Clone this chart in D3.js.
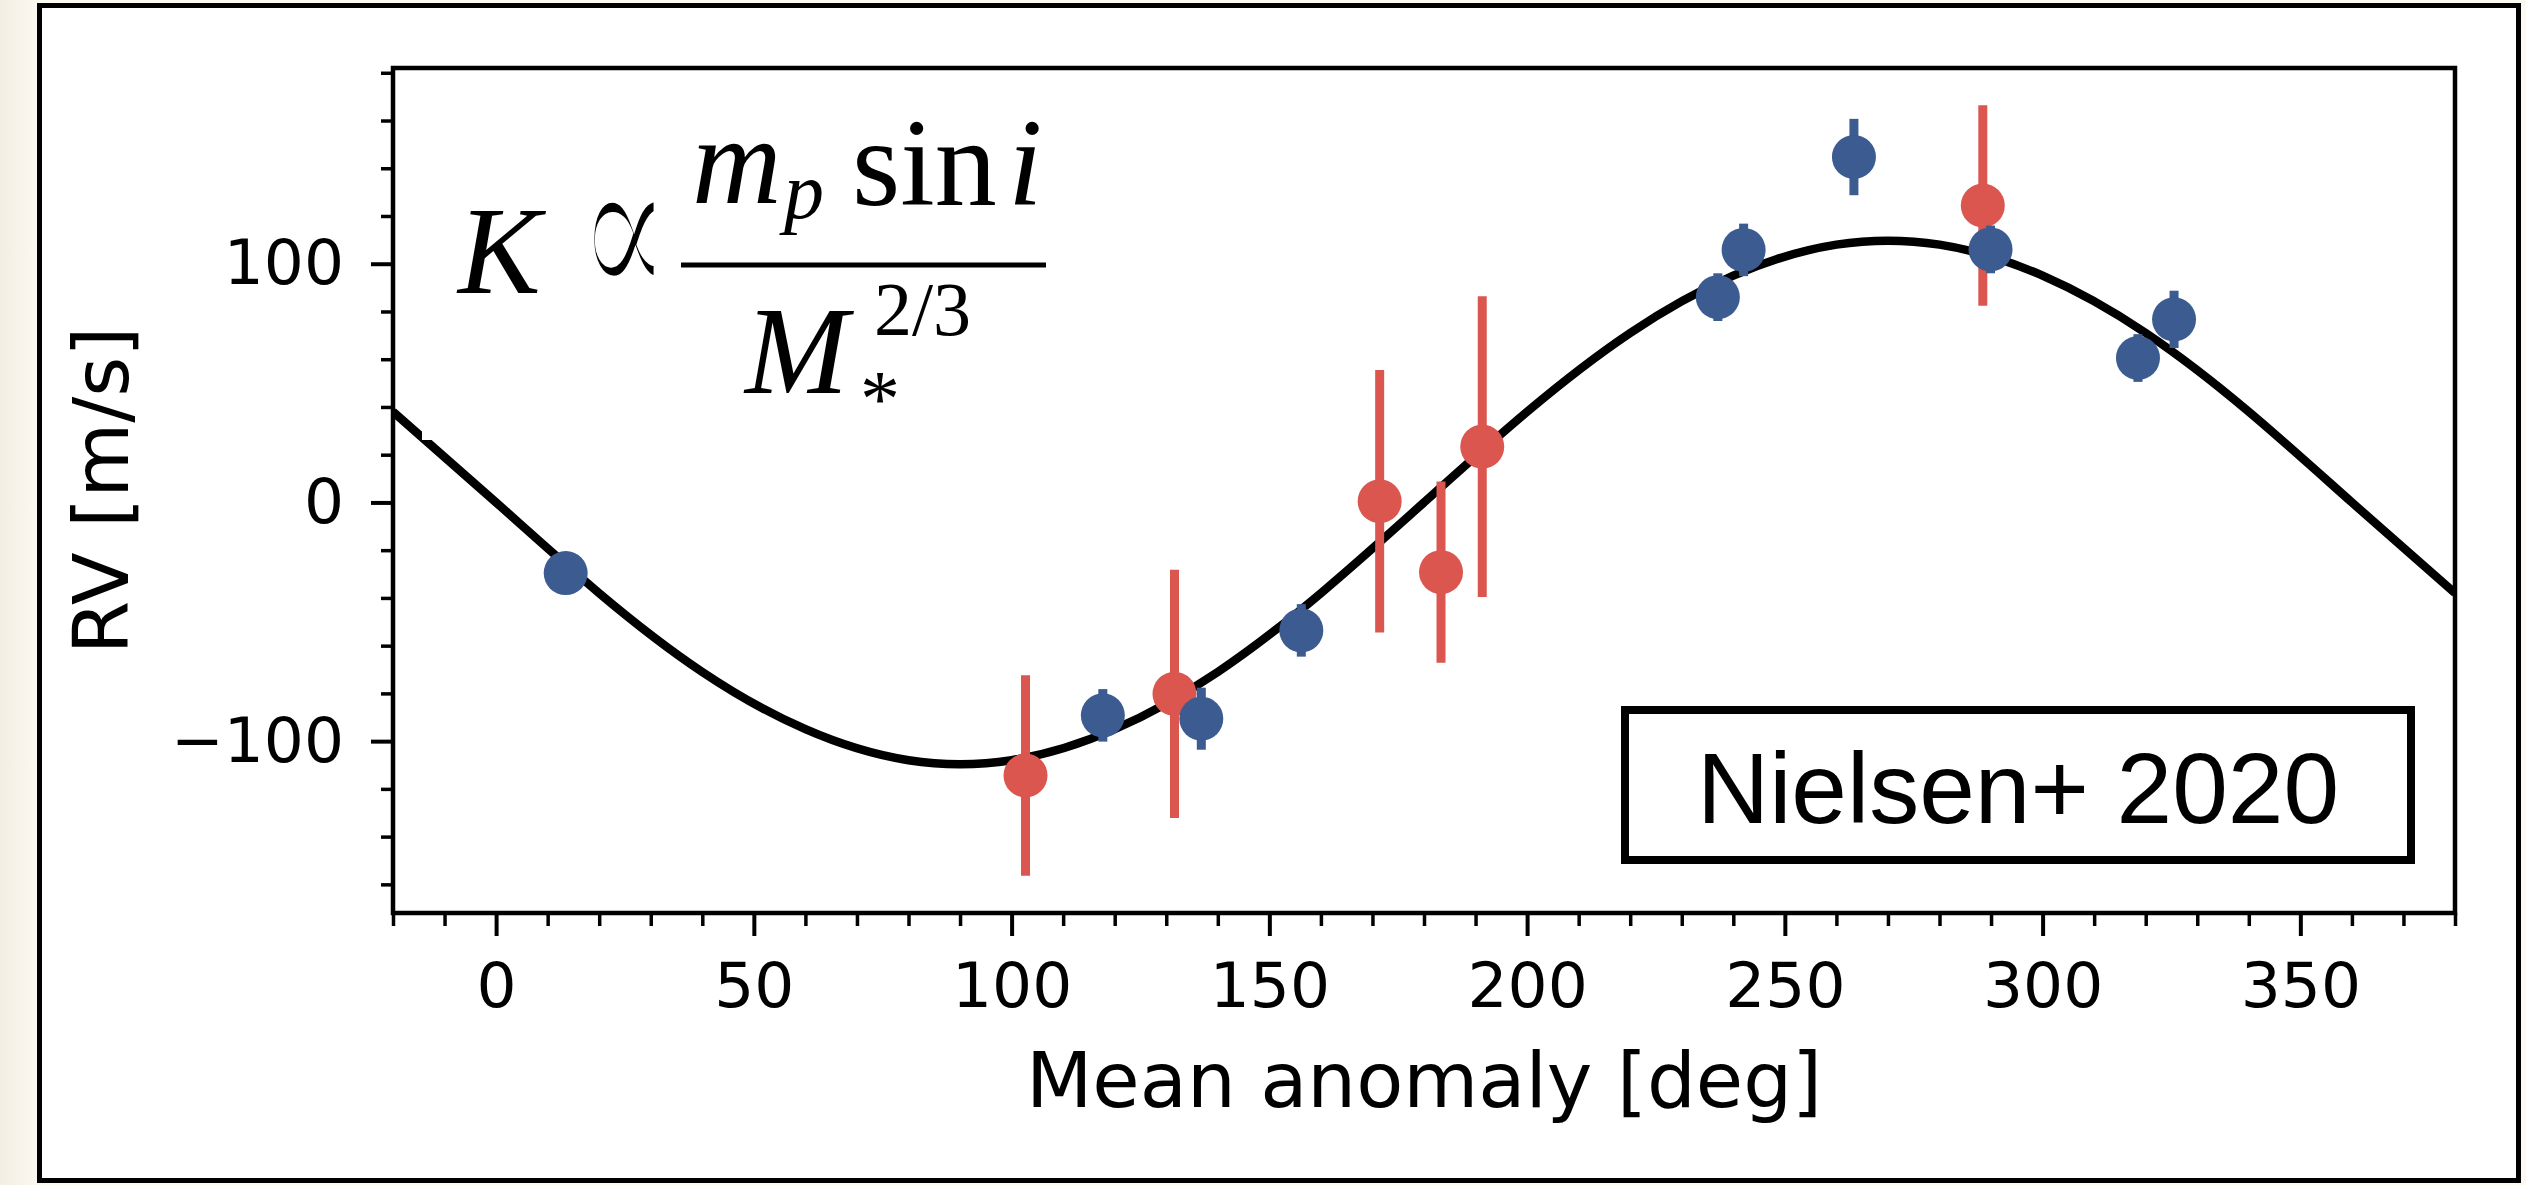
<!DOCTYPE html>
<html>
<head>
<meta charset="UTF-8">
<title>RV vs mean anomaly</title>
<script src="https://cdn.jsdelivr.net/npm/d3@7"></script>
<style>
  body { margin: 0; background: #fcf9f1; }
  svg { display: block; }
</style>
</head>
<body>
<script>

// ---- values ----
// fitted orbit (m/s) sampled every 20 deg
var curveAnomaly = [-20, 0, 20, 40, 60, 80, 100, 120, 140, 160, 180, 200, 220, 240, 260, 280, 300, 320, 340, 360, 380];
var curveRV      = [38, 0, -38, -71, -95, -108, -108, -95, -71, -38, 0, 38, 71, 95, 108, 108, 95, 71, 38, 0, -38];

// blue points (small errors)
var blueAnomaly = [13.5, 117.7, 136.8, 156.2, 237.0, 242.0, 263.4, 289.9, 318.5, 325.5];
var blueRV      = [-29.6, -89.2, -90.6, -53.6, 86.0, 105.8, 144.7, 106.0, 60.5, 76.7];
var blueErr     = [6, 11, 13, 11, 10, 11, 16, 10, 10, 12];

// red points (large errors)
var redAnomaly = [102.7, 131.6, 171.4, 183.3, 191.3, 288.4];
var redRV      = [-114.4, -80.2, 0.5, -29.2, 23.4, 124.4];
var redErr     = [42, 52, 55, 38, 63, 42];

var xTicks = [0, 50, 100, 150, 200, 250, 300, 350];
var xMinor = [-20, -10, 10, 20, 30, 40, 60, 70, 80, 90, 110, 120, 130, 140, 160, 170, 180, 190, 210, 220, 230, 240, 260, 270, 280, 290, 310, 320, 330, 340, 360, 370, 380];
var yTicks = [-100, 0, 100];
var yMinor = [-160, -140, -120, -80, -60, -40, -20, 20, 40, 60, 80, 120, 140, 160, 180];

var BLUE = "#3b5b91", RED = "#db564f";

// ---- layout ----
var W = 2526, H = 1185;
var plot = {left: 393, right: 2455, top: 68, bottom: 913};

var x = d3.scaleLinear().domain([-20, 380]).range([plot.left, plot.right]);
var y = d3.scaleLinear().domain([-172, 182]).range([plot.bottom, plot.top]);

var svg = d3.select("body").append("svg")
    .attr("width", W)
    .attr("height", H);

var defs = svg.append("defs");
var shade = defs.append("linearGradient").attr("id", "shade");
shade.append("stop").attr("offset", 0).attr("stop-color", "#f3eee2");
shade.append("stop").attr("offset", 1).attr("stop-color", "#fcf9f1");
defs.append("clipPath").attr("id", "plotclip")
  .append("rect")
    .attr("x", plot.left).attr("y", plot.top)
    .attr("width", plot.right - plot.left).attr("height", plot.bottom - plot.top);

svg.append("rect").attr("width", 40).attr("height", H).attr("fill", "url(#shade)");

// white card with black frame
svg.append("rect")
    .attr("x", 39.5).attr("y", 5.5)
    .attr("width", 2479).attr("height", 1175)
    .attr("fill", "white")
    .attr("stroke", "black")
    .attr("stroke-width", 5);

// model curve
var line = d3.line()
    .x(function(d, i) { return x(curveAnomaly[i]); })
    .y(function(d) { return y(d); })
    .curve(d3.curveNatural);

svg.append("path")
    .datum(curveRV)
    .attr("d", line)
    .attr("fill", "none")
    .attr("stroke", "black")
    .attr("stroke-width", 8.5)
    .attr("clip-path", "url(#plotclip)");

// pasted equation image has a white background
svg.append("rect")
    .attr("x", 422).attr("y", 95)
    .attr("width", 640).attr("height", 345)
    .attr("fill", "white");

// error bars + points
function series(ax, rv, err, color) {
  var g = svg.append("g").attr("clip-path", "url(#plotclip)");
  g.selectAll("line")
    .data(ax)
    .enter()
    .append("line")
      .attr("x1", function(d) { return x(d); })
      .attr("x2", function(d) { return x(d); })
      .attr("y1", function(d, i) { return y(rv[i] - err[i]); })
      .attr("y2", function(d, i) { return y(rv[i] + err[i]); })
      .attr("stroke", color)
      .attr("stroke-width", 9);
  g.selectAll("circle")
    .data(ax)
    .enter()
    .append("circle")
      .attr("cx", function(d) { return x(d); })
      .attr("cy", function(d, i) { return y(rv[i]); })
      .attr("r", 22)
      .attr("fill", color);
}
series(redAnomaly, redRV, redErr, RED);
series(blueAnomaly, blueRV, blueErr, BLUE);

// ---- axes ----
function styleAxis(g, fs) {
  g.select(".domain").remove();
  g.attr("font-family", "'DejaVu Sans', sans-serif").attr("font-size", fs);
}

var gxMinor = svg.append("g")
    .attr("transform", "translate(0," + plot.bottom + ")")
    .call(d3.axisBottom(x).tickValues(xMinor).tickSize(13).tickFormat(""));
styleAxis(gxMinor, 63);
gxMinor.selectAll(".tick line").attr("stroke-width", 3.5);

var gx = svg.append("g")
    .attr("transform", "translate(0," + plot.bottom + ")")
    .call(d3.axisBottom(x).tickValues(xTicks).tickSize(23).tickPadding(26).tickFormat(d3.format("d")));
styleAxis(gx, 63);
gx.selectAll(".tick line").attr("stroke-width", 4);

var gyMinor = svg.append("g")
    .attr("transform", "translate(" + plot.left + ",0)")
    .call(d3.axisLeft(y).tickValues(yMinor).tickSize(12).tickFormat(""));
styleAxis(gyMinor, 63);
gyMinor.selectAll(".tick line").attr("stroke-width", 3.5);

var gy = svg.append("g")
    .attr("transform", "translate(" + plot.left + ",0)")
    .call(d3.axisLeft(y).tickValues(yTicks).tickSize(22).tickPadding(27).tickFormat(d3.format("d")));
styleAxis(gy, 63);
gy.selectAll(".tick line").attr("stroke-width", 4);

// spines
svg.append("rect")
    .attr("x", plot.left).attr("y", plot.top)
    .attr("width", plot.right - plot.left).attr("height", plot.bottom - plot.top)
    .attr("fill", "none")
    .attr("stroke", "black")
    .attr("stroke-width", 4.5);

// axis titles
svg.append("text")
    .attr("x", (plot.left + plot.right) / 2)
    .attr("y", 1107)
    .attr("text-anchor", "middle")
    .attr("font-family", "'DejaVu Sans', sans-serif")
    .attr("font-size", 77)
    .text("Mean anomaly [deg]");

svg.append("text")
    .attr("transform", "translate(128," + ((plot.top + plot.bottom) / 2) + ") rotate(-90)")
    .attr("text-anchor", "middle")
    .attr("font-family", "'DejaVu Sans', sans-serif")
    .attr("font-size", 77)
    .text("RV [m/s]");

// reference box
svg.append("rect")
    .attr("x", 1625).attr("y", 710)
    .attr("width", 786).attr("height", 150)
    .attr("fill", "white")
    .attr("stroke", "black")
    .attr("stroke-width", 8);
svg.append("text")
    .attr("x", 2018).attr("y", 823)
    .attr("text-anchor", "middle")
    .attr("font-family", "'Liberation Sans', Arial, sans-serif")
    .attr("font-size", 100)
    .text("Nielsen+ 2020");

// ---- equation  K ∝ m_p sin i / M_*^(2/3) ----
var serif = "'Liberation Serif', 'Times New Roman', 'DejaVu Serif', serif";
var eq = svg.append("g").attr("font-family", serif).attr("fill", "black");
function piece(txt, px, py, size, italic, fam) {
  return eq.append("text")
      .attr("x", px).attr("y", py)
      .attr("font-size", size)
      .attr("font-style", italic ? "italic" : "normal")
      .attr("font-family", fam || null)
      .text(txt);
}
piece("K", 458, 293, 124, true);
// the DejaVu glyph is heavy and wide: squeeze it and thin it with a white outline
piece("\u221D", 0, 0, 210, false, "'DejaVu Serif', serif")
    .attr("transform", "translate(577,302) scale(0.66,1)")
    .attr("stroke", "white")
    .attr("stroke-width", 7);
eq.append("line")
    .attr("x1", 681).attr("x2", 1046)
    .attr("y1", 265).attr("y2", 265)
    .attr("stroke", "black")
    .attr("stroke-width", 5);
piece("m", 692, 203, 124, true);
piece("p", 784, 218, 80, true);
piece("sin", 852, 205, 124, false);
piece("i", 1008, 205, 124, true);
piece("M", 745, 393, 124, true);
piece("2/3", 874, 335, 76, false);
piece("*", 860, 426, 80, false);

</script>
</body>
</html>
